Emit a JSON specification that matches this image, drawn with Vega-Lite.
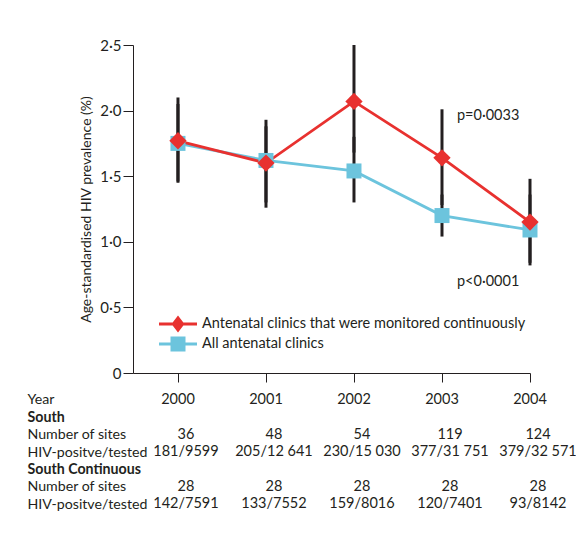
{
  "$schema": "https://vega.github.io/schema/vega-lite/v6.json",
  "padding": {"left": 27, "top": 38, "right": 0, "bottom": 0},
  "spacing": 8,
  "config": {
    "font": "Lato",
    "view": {"stroke": null},
    "axis": {"grid": false, "labelFont": "Lato", "titleFont": "Lato", "labelColor": "#231f20", "titleColor": "#231f20", "domainColor": "#231f20", "tickColor": "#231f20"}
  },
  "datasets": {
    "prev": [
      {"series": "Antenatal clinics that were monitored continuously", "year": 2000, "value": 1.77, "lo": 1.46, "hi": 2.10},
      {"series": "Antenatal clinics that were monitored continuously", "year": 2001, "value": 1.60, "lo": 1.26, "hi": 1.93},
      {"series": "Antenatal clinics that were monitored continuously", "year": 2002, "value": 2.07, "lo": 1.68, "hi": 2.50},
      {"series": "Antenatal clinics that were monitored continuously", "year": 2003, "value": 1.64, "lo": 1.28, "hi": 2.01},
      {"series": "Antenatal clinics that were monitored continuously", "year": 2004, "value": 1.15, "lo": 0.84, "hi": 1.48},
      {"series": "All antenatal clinics", "year": 2000, "value": 1.75, "lo": 1.45, "hi": 2.05},
      {"series": "All antenatal clinics", "year": 2001, "value": 1.62, "lo": 1.30, "hi": 1.88},
      {"series": "All antenatal clinics", "year": 2002, "value": 1.54, "lo": 1.30, "hi": 1.80},
      {"series": "All antenatal clinics", "year": 2003, "value": 1.20, "lo": 1.04, "hi": 1.36},
      {"series": "All antenatal clinics", "year": 2004, "value": 1.09, "lo": 0.82, "hi": 1.36}
    ],
    "table": [
      {"row": 0, "year": 2000, "text": "2000"},
      {"row": 0, "year": 2001, "text": "2001"},
      {"row": 0, "year": 2002, "text": "2002"},
      {"row": 0, "year": 2003, "text": "2003"},
      {"row": 0, "year": 2004, "text": "2004"},
      {"row": 2, "year": 2000, "text": "36"},
      {"row": 2, "year": 2001, "text": "48"},
      {"row": 2, "year": 2002, "text": "54"},
      {"row": 2, "year": 2003, "text": "119"},
      {"row": 2, "year": 2004, "text": "124"},
      {"row": 3, "year": 2000, "text": "181/9599"},
      {"row": 3, "year": 2001, "text": "205/12 641"},
      {"row": 3, "year": 2002, "text": "230/15 030"},
      {"row": 3, "year": 2003, "text": "377/31 751"},
      {"row": 3, "year": 2004, "text": "379/32 571"},
      {"row": 5, "year": 2000, "text": "28"},
      {"row": 5, "year": 2001, "text": "28"},
      {"row": 5, "year": 2002, "text": "28"},
      {"row": 5, "year": 2003, "text": "28"},
      {"row": 5, "year": 2004, "text": "28"},
      {"row": 6, "year": 2000, "text": "142/7591"},
      {"row": 6, "year": 2001, "text": "133/7552"},
      {"row": 6, "year": 2002, "text": "159/8016"},
      {"row": 6, "year": 2003, "text": "120/7401"},
      {"row": 6, "year": 2004, "text": "93/8142"}
    ]
  },
  "vconcat": [
    {
      "width": 397,
      "height": 328,
      "data": {"name": "prev"},
      "encoding": {
        "x": {"field": "year", "type": "quantitative", "scale": {"domain": [1999.489, 2004], "nice": false, "zero": false},
              "axis": {"values": [2000, 2001, 2002, 2003, 2004], "labels": false, "tickSize": 9, "title": null}},
        "y": {"field": "value", "type": "quantitative", "scale": {"domain": [0, 2.5], "nice": false},
              "title": "Age-standardised HIV prevalence (%)",
              "axis": {"values": [0, 0.5, 1, 1.5, 2, 2.5], "tickSize": 10, "labelPadding": 2, "labelFontSize": 15, "titleFontSize": 14, "titleFontWeight": "normal", "titlePadding": 6,
                       "labelExpr": "datum.value == 0 ? '0' : replace(format(datum.value, '.1f'), '.', '·')"}}
      },
      "layer": [
        {
          "mark": {"type": "rule", "color": "#231f20", "strokeWidth": 3},
          "encoding": {
            "y": {"field": "lo", "type": "quantitative", "title": "Age-standardised HIV prevalence (%)"},
            "y2": {"field": "hi"}
          }
        },
        {
          "transform": [{"filter": "datum.series == 'All antenatal clinics'"}],
          "mark": {"type": "line", "strokeWidth": 2.8, "color": "#6cc4dd"}
        },
        {
          "transform": [{"filter": "datum.series != 'All antenatal clinics'"}],
          "mark": {"type": "line", "strokeWidth": 2.8, "color": "#e8312f"}
        },
        {
          "transform": [{"filter": "datum.series == 'All antenatal clinics'"}],
          "mark": {"type": "point", "filled": true, "opacity": 1, "size": 225, "shape": "square", "color": "#6cc4dd"}
        },
        {
          "transform": [{"filter": "datum.series != 'All antenatal clinics'"}],
          "mark": {"type": "point", "filled": true, "opacity": 1, "size": 300, "shape": "diamond", "color": "#e8312f"}
        },
        {
          "transform": [{"filter": "false"}],
          "mark": {"type": "point", "filled": true, "opacity": 1},
          "encoding": {
            "shape": {"field": "series", "type": "nominal",
              "scale": {"domain": ["Antenatal clinics that were monitored continuously", "All antenatal clinics"],
                        "range": ["M-1.9,-0.14H1.9V0.14H-1.9Z M0,-0.85L0.65,0L0,0.85L-0.65,0Z", "M-1.9,-0.14H1.9V0.14H-1.9Z M-0.75,-0.75H0.75V0.75H-0.75Z"]},
              "legend": null},
            "color": {"field": "series", "type": "nominal",
              "scale": {"domain": ["Antenatal clinics that were monitored continuously", "All antenatal clinics"], "range": ["#e8312f", "#6cc4dd"]},
              "legend": {"title": null, "orient": "none", "legendX": 34, "legendY": 268, "padding": 0, "rowPadding": 0,
                "symbolSize": 400, "symbolOpacity": 1, "labelFontSize": 14.5, "labelFont": "Lato", "labelColor": "#231f20", "labelOffset": 13, "labelLimit": 600}}
          }
        },
        {
          "transform": [{"filter": "datum.year == 2003 && datum.series != 'All antenatal clinics'"}],
          "mark": {"type": "text", "align": "left", "baseline": "middle", "fontSize": 14.5, "color": "#231f20", "dx": 15, "dy": -42, "text": "p=0·0033"}
        },
        {
          "transform": [{"filter": "datum.year == 2003 && datum.series == 'All antenatal clinics'"}],
          "mark": {"type": "text", "align": "left", "baseline": "middle", "fontSize": 14.5, "color": "#231f20", "dx": 15, "dy": 66, "text": "p<0·0001"}
        }
      ]
    },
    {
      "width": 397,
      "height": 122,
      "data": {"name": "table"},
      "encoding": {
        "x": {"field": "year", "type": "quantitative", "scale": {"domain": [1999.489, 2004], "nice": false, "zero": false}, "axis": null},
        "y": {"field": "row", "type": "ordinal", "scale": {"type": "point", "domain": [0, 1, 2, 3, 4, 5, 6], "padding": 0.5},
              "axis": {"title": null, "domain": false, "ticks": false, "labelAlign": "left", "labelPadding": 106, "labelFontSize": 14.2, "labelLimit": 300,
                       "labelExpr": "['Year', 'South', 'Number of sites', 'HIV-positve/tested', 'South Continuous', 'Number of sites', 'HIV-positve/tested'][datum.value]",
                       "labelFontWeight": {"condition": {"test": "datum.value == 1 || datum.value == 4", "value": "bold"}, "value": "normal"}}}
      },
      "layer": [
        {
          "transform": [{"filter": "datum.row == 0"}],
          "mark": {"type": "text", "fontSize": 14.5, "color": "#231f20", "baseline": "middle"},
          "encoding": {"text": {"field": "text"}}
        },
        {
          "transform": [{"filter": "datum.row > 0"}],
          "mark": {"type": "text", "fontSize": 14.5, "color": "#231f20", "baseline": "middle", "dx": 8},
          "encoding": {"text": {"field": "text"}}
        }
      ]
    }
  ]
}
